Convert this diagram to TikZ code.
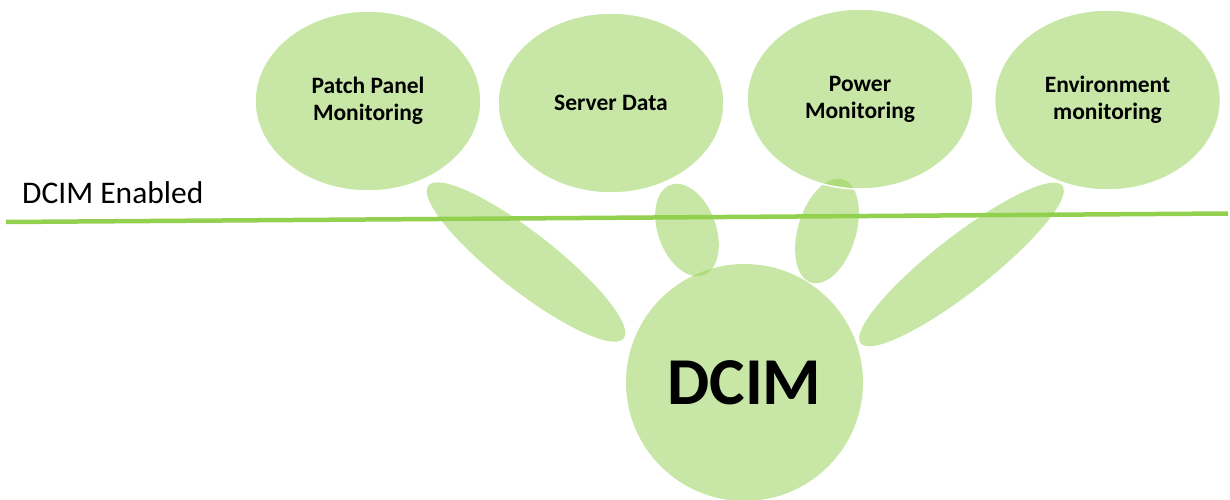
\documentclass[tikz,border=0pt]{standalone}
\usepackage{fontspec}
\setmainfont{Carlito}
\usetikzlibrary{shapes.geometric}
\pgfdeclarelayer{bg}
\pgfsetlayers{bg,main}
\definecolor{dgreen}{HTML}{92D050}
\begin{document}
\begin{tikzpicture}[x=1pt,y=-1pt,
  bigell/.style={ellipse, fill=dgreen, fill opacity=0.5, text opacity=1, draw=white, line width=1.5pt,
    minimum width=226pt, minimum height=180pt, inner sep=0pt, align=center,
    font=\fontsize{23.5}{27}\selectfont\bfseries},
  linkell/.style={ellipse, fill=dgreen, fill opacity=0.5, inner sep=0pt},
  hub/.style={circle, fill=dgreen, fill opacity=0.5, text opacity=1, minimum size=237pt, inner sep=0pt,
    font=\fontsize{67}{70}\selectfont\bfseries},
  divider/.style={draw=dgreen, line width=4.5pt}]
\useasboundingbox (0,0) rectangle (1230,500);

% connector ellipses (behind)
\begin{pgfonlayer}{bg}
\node[linkell, minimum width=248pt, minimum height=58pt, rotate=-38] (lpp) at (526,262) {};
\node[linkell, minimum width=96pt, minimum height=58pt, rotate=110] (lsd) at (687,230) {};
\node[linkell, minimum width=108pt, minimum height=58pt, rotate=73] (lpm) at (827,231) {};
\node[linkell, minimum width=256pt, minimum height=56pt, rotate=38] (lem) at (961.5,264.5) {};
\end{pgfonlayer}

% top ellipses
\node[bigell] (pp) at (368,101) {Patch Panel\\Monitoring};
\node[bigell] (sd) at (611,103) {Server Data};
\node[bigell] (pm) at (860,99) {Power\\Monitoring};
\node[bigell] (em) at (1107.5,100) {Environment\\monitoring};

% hub
\node[hub] (dcim) at (744.5,382.5) {DCIM};

% divider line and label
\coordinate (lineL) at (6,222);
\coordinate (lineR) at (1228,213.5);
\draw[divider] (lineL) -- (lineR);
\node[anchor=base west, inner sep=0pt, font=\fontsize{31.5}{36}\selectfont] (lbl) at (22,203) {DCIM Enabled};
\end{tikzpicture}
\end{document}
